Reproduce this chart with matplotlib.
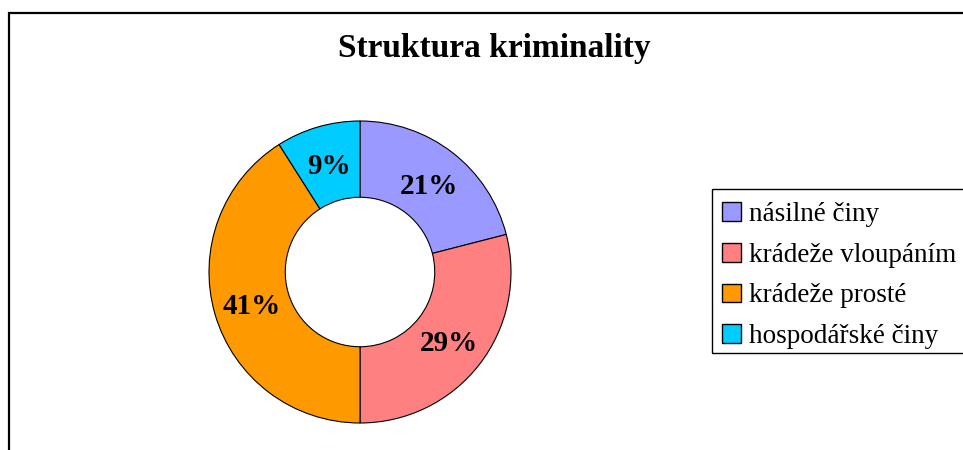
import matplotlib
matplotlib.use("Agg")
import matplotlib.pyplot as plt
from matplotlib.patches import Rectangle
from matplotlib.transforms import offset_copy

plt.rcParams['font.family'] = ['Liberation Serif', 'DejaVu Serif']

# data
categories = ['násilné činy', 'krádeže vloupáním', 'krádeže prosté', 'hospodářské činy']
shares = [21, 29, 41, 9]
colors = ['#9999FF', '#FF8080', '#FF9900', '#00CCFF']
title = 'Struktura kriminality'

W, H = 963, 450
fig = plt.figure(figsize=(W / 100, H / 100), dpi=100, facecolor='white')

# outer chart frame (cut off at right and bottom like the reference)
fig.patches.append(Rectangle((9 / W, -0.2), 1.2, (H - 13) / H + 0.2,
                             transform=fig.transFigure, fill=False,
                             edgecolor='black', linewidth=1.6, clip_on=False))

cx, cy, r = 360, H - 272, 151
ax = fig.add_axes([(cx - r) / W, (cy - r) / H, 2 * r / W, 2 * r / H])
wedges, texts = ax.pie(shares, colors=colors, startangle=90, counterclock=False,
                       radius=1.0, labels=[f'{v}%' for v in shares],
                       labeldistance=0.745,
                       wedgeprops=dict(width=0.505, edgecolor='black', linewidth=0.8,
                                       clip_on=False),
                       textprops=dict(fontsize=21, fontweight='bold', color='black'))
for t in texts:
    t.set_ha('center')
    t.set_va('center')
    # nudge down a little, glyphs sit lower in the reference
    t.set_transform(offset_copy(ax.transData, fig=fig, x=0, y=-3, units='dots'))
ax.set_xlim(-1, 1)
ax.set_ylim(-1, 1)
ax.set_aspect('equal')
ax.axis('off')

fig.text(494 / W, (H - 57) / H, title, ha='center', va='baseline',
         fontsize=24, fontweight='bold')

# legend box frame, runs past the right edge as in the reference
fig.patches.append(Rectangle((712 / W, (H - 353) / H), 0.5, 164 / H,
                             transform=fig.transFigure, fill=False,
                             edgecolor='black', linewidth=1.0, clip_on=False))

leg = fig.legend(wedges, categories, loc='upper left',
                 bbox_to_anchor=(712 / W, (H - 192) / H),
                 fontsize=19.5, frameon=False,
                 handlelength=0.68, handleheight=0.68, handletextpad=0.32,
                 labelspacing=0.575, borderpad=0.38, borderaxespad=0)
for h in leg.legend_handles:
    h.set_edgecolor('black')
    h.set_linewidth(1.0)

fig.savefig('out.png', dpi=100)
